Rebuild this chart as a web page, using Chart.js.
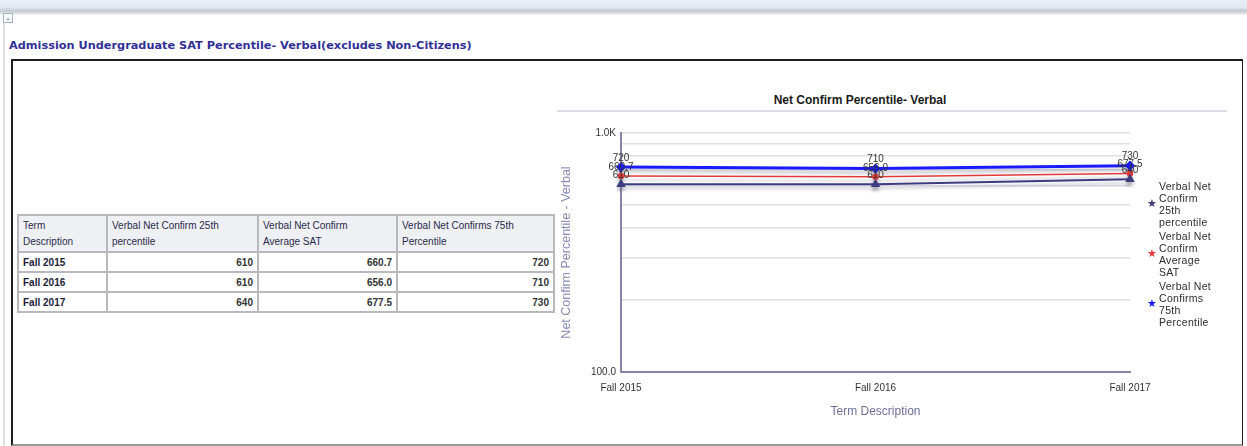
<!DOCTYPE html>
<html>
<head>
<meta charset="utf-8">
<script src="https://cdn.jsdelivr.net/npm/chart.js@4.4.1/dist/chart.umd.min.js"></script>
<style>
  html, body { margin: 0; padding: 0; background: #fff; }
  body { width: 1247px; height: 446px; position: relative; overflow: hidden;
         font-family: "Liberation Sans", Arial, sans-serif; }
  .topbar { position: absolute; left: 0; top: 0; width: 1247px; height: 15px;
            background: linear-gradient(#e8eff8 0, #e2e9f2 7px, #c3c8d1 11px, #f3f4f7 15px); }
  .lside { position: absolute; left: 3px; top: 12px; width: 2px; height: 434px; background: #dcdfe4; }
  .icon { position: absolute; left: 3px; top: 13px; width: 8px; height: 8px; border: 1px solid #a9b2bf;
          background: #f6f8fb; font-size: 7px; line-height: 8px; text-align: center; color: #566; }
  .ptitle { position: absolute; left: 9px; top: 39px; font-family: "DejaVu Sans", sans-serif;
            font-size: 11.3px; font-weight: bold; color: #303096; white-space: nowrap; }
  .box { position: absolute; left: 11px; top: 59px; width: 1229px; height: 383px;
         border: 2px solid #1e1e1e; border-bottom-color: #9a9a9a; border-right-width: 1px; }
  table.grid { position: absolute; left: 17px; top: 214px; border-collapse: collapse;
               font-size: 10px; color: #1c1c3a; }
  table.grid td { border: 2px solid #b9b9bd; padding: 1px 4px; height: 16px; }
  table.grid tr.hd td { background: #eef0f4; height: 33px; vertical-align: middle; line-height: 16px;
                        color: #2a2a4a; }
  table.grid td.num { text-align: right; font-weight: bold; color: #333; }
  table.grid td.term { font-weight: bold; }
  .ctitle { position: absolute; left: 700px; width: 320px; top: 93px; text-align: center;
            font-size: 12px; font-weight: bold; color: #1a1a1a; }
  .crule { position: absolute; left: 557px; top: 110px; width: 670px; height: 2px; background: #dcdceb; }
  .chartwrap { position: absolute; left: 555px; top: 120px; width: 610px; height: 310px; }
  .legend { position: absolute; left: 1147px; top: 180px; font-size: 10.5px; color: #2d2d2d;
            line-height: 12px; letter-spacing: 0.3px; }
  .legend .item { position: relative; padding-left: 12px; white-space: nowrap; margin-bottom: 2px; }
  .legend .mk { position: absolute; left: 0; top: 50%; margin-top: -7px; font-size: 11px; letter-spacing: 0; }
</style>
</head>
<body>
<div class="topbar"></div>
<div class="lside"></div>
<div class="icon">&#8964;</div>
<div class="ptitle">Admission Undergraduate SAT Percentile- Verbal(excludes Non-Citizens)</div>
<div class="box"></div>
<table class="grid" id="tbl"></table>
<div class="ctitle">Net Confirm Percentile- Verbal</div>
<div class="crule"></div>
<div class="chartwrap"><canvas id="c"></canvas></div>
<div class="legend" id="legend"></div>
<script>
const terms = ["Fall 2015", "Fall 2016", "Fall 2017"];
const p25 = [610, 610, 640];
const avgSat = [660.7, 656.0, 677.5];
const p75 = [720, 710, 730];
const yTicks = [100, 200, 300, 400, 500, 600, 700, 800, 900, 1000];

const headers = [["Term", "Description"], ["Verbal Net Confirm 25th", "percentile"],
                 ["Verbal Net Confirm", "Average SAT"], ["Verbal Net Confirms 75th", "Percentile"]];
const colWidths = [79, 141, 129, 147];
const seriesNames = ["Verbal Net Confirm 25th percentile", "Verbal Net Confirm Average SAT",
                     "Verbal Net Confirms 75th Percentile"];
const seriesColors = ["#3b3b7e", "#e23a3a", "#1a1aff"];
const legendNames = [
  ["Verbal Net", "Confirm", "25th", "percentile"],
  ["Verbal Net", "Confirm", "Average", "SAT"],
  ["Verbal Net", "Confirms", "75th", "Percentile"],
];

// ---- table
{
  let html = '<tr class="hd">' +
    headers.map((h, i) => `<td style="width:${colWidths[i]}px">${h.join("<br>")}</td>`).join("") + "</tr>";
  terms.forEach((t, i) => {
    html += `<tr><td class="term">${t}</td><td class="num">${p25[i]}</td>` +
            `<td class="num">${avgSat[i].toFixed(1)}</td><td class="num">${p75[i]}</td></tr>`;
  });
  document.getElementById("tbl").innerHTML = html;
}

// ---- legend (wrapped text, star markers)
document.getElementById("legend").innerHTML = legendNames.map((lines, i) =>
  `<div class="item"><span class="mk" style="color:${seriesColors[i]}">&#9733;</span>${lines.join("<br>")}</div>`
).join("");

// ---- chart
Chart.defaults.font.family = '"Liberation Sans", Arial, sans-serif';
Chart.defaults.color = "#333";

const shadowPlugin = {
  id: "shadow",
  beforeDatasetDraw(chart) {
    const ctx = chart.ctx;
    ctx.save();
    ctx.shadowColor = "rgba(110,110,130,0.35)";
    ctx.shadowOffsetY = 4;
    ctx.shadowBlur = 3;
  },
  afterDatasetDraw(chart) { chart.ctx.restore(); },
};

const valueLabels = {
  id: "valueLabels",
  afterDatasetsDraw(chart) {
    const ctx = chart.ctx;
    ctx.save();
    ctx.font = '10px "Liberation Sans", Arial, sans-serif';
    ctx.fillStyle = "#333";
    ctx.textAlign = "center";
    ctx.textBaseline = "middle";
    chart.data.datasets.forEach((ds, di) => {
      chart.getDatasetMeta(di).data.forEach((pt, i) => {
        const v = ds.data[i];
        ctx.fillText(di === 1 ? v.toFixed(1) : String(v), pt.x, pt.y - 9);
      });
    });
    ctx.restore();
  },
};

new Chart(document.getElementById("c"), {
  type: "line",
  data: {
    labels: terms,
    datasets: [
      { label: seriesNames[0], data: p25, borderColor: seriesColors[0], backgroundColor: seriesColors[0],
        borderWidth: 2, pointStyle: "triangle", pointRadius: 3.5 },
      { label: seriesNames[1], data: avgSat, borderColor: seriesColors[1], backgroundColor: seriesColors[1],
        borderWidth: 1.5, pointStyle: "circle", pointRadius: 2.5 },
      { label: seriesNames[2], data: p75, borderColor: seriesColors[2], backgroundColor: seriesColors[2],
        borderWidth: 3, pointStyle: "rectRot", pointRadius: 3 },
    ],
  },
  options: {
    responsive: true, maintainAspectRatio: false, animation: false,
    layout: { padding: { left: 0, right: 35, top: 13, bottom: 0 } },
    plugins: { legend: { display: false }, tooltip: { enabled: false } },
    scales: {
      x: {
        offset: false,
        grid: { display: false, drawTicks: false },
        border: { color: "#8585a8", width: 2 },
        ticks: { font: { size: 10 }, color: "#333", padding: 10, maxRotation: 0 },
        title: { display: true, text: "Term Description", color: "#6e6e9c", font: { size: 12 },
                 padding: { top: 2, bottom: 11 } },
        afterFit: s => { s.height = 58; },
      },
      y: {
        type: "logarithmic", min: 100, max: 1000,
        afterBuildTicks: s => { s.ticks = yTicks.map(v => ({ value: v })); },
        grid: { color: "#dedee8", lineWidth: 1.5, drawTicks: false },
        border: { color: "#8585a8", width: 2 },
        ticks: {
          autoSkip: false, font: { size: 10 }, color: "#333", padding: 5,
          callback: v => v === 1000 ? "1.0K" : v === 100 ? "100.0" : "",
        },
        title: { display: true, text: "Net Confirm Percentile - Verbal", color: "#8a8ab8",
                 font: { size: 12.5 }, padding: { bottom: 13 } },
        afterFit: s => { s.width = 66; },
      },
    },
  },
  plugins: [shadowPlugin, valueLabels],
});
</script>
</body>
</html>
